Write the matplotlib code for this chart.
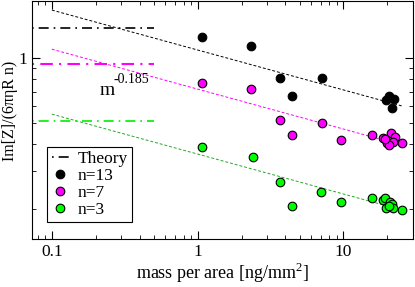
import matplotlib
matplotlib.use("Agg")
import matplotlib.pyplot as plt
import numpy as np
from matplotlib.ticker import LogLocator, NullFormatter, FixedLocator, FixedFormatter

plt.rcParams['font.family'] = ['Liberation Serif', 'DejaVu Serif']
plt.rcParams['mathtext.fontset'] = 'custom'
plt.rcParams['mathtext.rm'] = 'Liberation Serif'

# n=13 (black)
x13 = [1.07, 2.32, 3.68, 7.17, 4.45, 19.5, 20.7, 22.4, 21.4]
y13 = [1.25, 1.14, 0.81, 0.81, 0.667, 0.64, 0.667, 0.646, 0.59]
# n=7 (magenta)
x7 = [1.07, 2.32, 3.68, 7.17, 4.45, 9.7, 15.6, 18.6, 19.8, 21.1, 22.5, 21.8, 25.1, 20.7, 19.2]
y7 = [0.766, 0.718, 0.516, 0.50, 0.44, 0.417, 0.44, 0.426, 0.404, 0.45, 0.431, 0.409, 0.404, 0.396, 0.422]
# n=3 (green)
x3 = [1.07, 2.4, 3.68, 4.45, 7.0, 9.7, 15.6, 18.6, 19.2, 19.5, 20.9, 21.6, 22.0, 25.1, 20.5]
y3 = [0.387, 0.348, 0.267, 0.206, 0.24, 0.215, 0.225, 0.22, 0.225, 0.202, 0.215, 0.211, 0.202, 0.198, 0.206]

# theory levels
theory_x = [0.073, 0.5]
theory13 = 1.377
theory7 = 0.938
theory3 = 0.51

# power-law fits ~ m^-0.185
slope = -0.185
fit_x = [0.1, 25.1]
fit13_a = 1.67
fit7_a = 1.10
fit3_a = 0.55

fig = plt.figure(figsize=(4.15, 2.87), dpi=100)
ax = fig.add_axes([0.077, 0.167, 0.918, 0.8295])
ax.set_xscale('log')
ax.set_yscale('log')
ax.set_xlim(0.073, 30)
ax.set_ylim(0.145, 1.84)

fx = np.array(fit_x)
for a, c in [(fit13_a, 'black'), (fit7_a, '#ff00ff'), (fit3_a, '#22aa22')]:
    ax.plot(fx, a * (fx / 0.1) ** slope, ls=(0, (3, 2)), color=c, lw=0.7)

tl, = ax.plot(theory_x, [theory13] * 2, color='black', lw=1.2, ls=(0, (1, 3, 6, 3)))
ax.plot(theory_x, [theory7] * 2, color='#ff00ff', lw=1.5, ls=(0, (1, 3, 6, 3)))
ax.plot(theory_x, [theory3] * 2, color='#00ee00', lw=1.2, ls=(0, (1, 3, 6, 3)))

ms = 6.2
h13, = ax.plot(x13, y13, 'o', color='black', mec='black', ms=ms, mew=0.8)
h7, = ax.plot(x7, y7, 'o', color='#ff00ff', mec='black', ms=ms, mew=0.8)
h3, = ax.plot(x3, y3, 'o', color='#00ff00', mec='black', ms=ms, mew=0.8)

ax.text(0.214, 0.674, 'm', fontsize=14, ha='left', va='baseline')
ax.text(0.263, 0.766, '-0.185', fontsize=10, ha='left', va='baseline')

ax.xaxis.set_major_locator(FixedLocator([0.1, 1, 10]))
ax.xaxis.set_major_formatter(FixedFormatter(['0.1', '1', '10']))
ax.xaxis.set_minor_locator(LogLocator(base=10, subs=np.arange(2, 10)))
ax.xaxis.set_minor_formatter(NullFormatter())
ax.yaxis.set_major_locator(FixedLocator([1]))
ax.yaxis.set_major_formatter(FixedFormatter(['1']))
ax.yaxis.set_minor_locator(LogLocator(base=10, subs=np.arange(1, 10)))
ax.yaxis.set_minor_formatter(NullFormatter())
ax.tick_params(which='both', direction='in', top=True, right=True, labelsize=12.5)
ax.tick_params(which='major', length=6)
ax.tick_params(which='minor', length=3)

ax.set_xlabel(r'mass per area [ng/mm$^2$]', fontsize=13, labelpad=1)
ax.set_ylabel('Im[Z]/(6πηR n)', fontsize=11.5)
ax.yaxis.set_label_coords(-0.037, 0.54)

leg = ax.legend([tl, h13, h7, h3], ['Theory', 'n=13', 'n=7', 'n=3'],
                loc='lower left', bbox_to_anchor=(0.04, 0.07), fontsize=12.5,
                frameon=True, fancybox=False, edgecolor='black', framealpha=1,
                handlelength=1.0, handletextpad=0.5, borderpad=0.25, labelspacing=0.05,
                borderaxespad=0)
leg.get_frame().set_linewidth(0.8)

fig.savefig('out.png', dpi=100)
